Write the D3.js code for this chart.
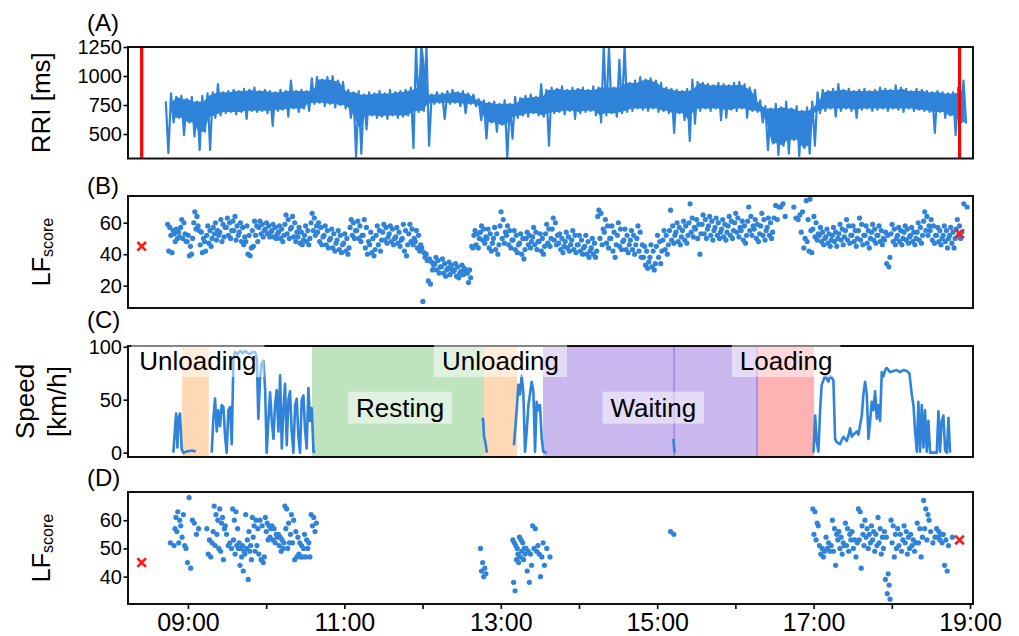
<!DOCTYPE html>
<html>
<head>
<meta charset="utf-8">
<script src="https://cdn.jsdelivr.net/npm/d3@7"></script>
<style>
  body { margin: 0; background: #fff; }
  svg text { font-family: "Liberation Sans", Arial, Helvetica, sans-serif; fill: #000; }
</style>
</head>
<body>
<svg id="chart" width="1019" height="636"></svg>
<script>
// all times are minutes after midnight

// (A) RRI trace: envelope of the beat-to-beat trace, one top/bottom pair every 4 min from 08:43
var rriStart = 523, rriStep = 4;
var rriTop = [780,850,820,830,800,820,780,830,850,860,
  930,860,870,880,870,890,880,900,870,880,
  870,860,880,870,960,870,880,870,980,990,
  970,990,1000,960,950,880,860,870,840,860,
  850,870,850,880,860,870,880,900,1260,1260,
  1260,840,860,850,870,880,860,870,850,840,
  800,790,770,780,760,790,760,820,810,830,
  840,820,930,880,900,890,910,880,900,890,
  900,880,910,900,1260,1260,900,1140,1260,940,
  960,990,970,980,960,940,900,890,880,870,
  890,970,950,940,930,920,940,930,920,940,
  950,930,900,880,790,740,720,760,730,780,
  720,740,700,730,780,860,880,870,890,930,
  880,890,870,880,890,870,880,900,890,880,
  920,900,890,870,890,880,870,860,870,860,
  850,860,900,960];
var rriBot = [336,600,640,490,600,480,362,520,362,640,
  660,680,690,670,690,630,700,690,700,680,
  570,700,710,650,720,690,720,700,760,770,
  740,760,730,750,720,640,305,330,540,660,
  640,650,630,660,640,650,660,380,690,700,
  400,760,770,630,760,770,740,680,760,740,
  620,460,600,520,580,300,460,640,660,650,
  680,660,650,400,680,690,670,700,630,680,
  690,700,660,600,660,680,650,680,690,700,
  720,710,700,720,690,700,680,510,680,620,
  440,590,700,720,700,720,620,640,710,700,
  720,640,700,690,600,360,420,320,400,330,
  450,310,380,330,400,680,700,720,650,700,
  720,700,640,710,720,700,710,720,700,720,
  710,690,720,700,710,700,690,510,690,640,
  660,490,600,590];

// recording start / end marks and the resting LF score
var markTimes = [504.5, 1132];
var markLF = [45, 53];

// (B) LF score, all windows: [bin start, values inside the 5-min bin]
var lfAll = [
[524,[59,42,57,52,41,55]],[529,[53,48,56,50,54,51]],[534,[57,62,50,60,53,48]],
[539,[48,52,39,45,40,50]],[544,[60,67,56,64,58,55]],[549,[46,54,41,50,48,42]],
[554,[52,58,47,55,45,50]],[559,[57,53,60,49,55,52]],[564,[54,62,48,59,51,57]],
[569,[57,63,52,60,50,55]],[574,[61,55,64,49,58,52]],[579,[54,60,48,57,46,51]],
[584,[48,58,40,52,39,44]],[589,[55,45,61,52,58,48]],[594,[57,61,53,59,51,55]],
[599,[56,60,53,58,51,54]],[604,[55,59,51,57,50,53]],[609,[54,58,50,56,48,52]],
[614,[59,65,53,62,50,56]],[619,[57,64,51,60,48,54]],[624,[51,57,47,54,46,49]],
[629,[52,58,48,55,46,50]],[634,[60,66,55,63,52,58]],[639,[54,60,48,57,46,51]],
[644,[52,58,46,55,44,49]],[649,[50,56,44,53,42,47]],[654,[49,55,43,52,41,46]],
[659,[47,53,42,50,40,44]],[664,[57,62,52,60,50,55]],[669,[55,61,50,58,48,52]],
[674,[52,62,44,57,40,48]],[679,[46,54,41,50,39,43]],[684,[52,58,46,55,42,49]],
[689,[54,59,49,57,47,51]],[694,[53,58,48,56,46,50]],[699,[51,57,47,54,45,49]],
[704,[50,59,42,55,39,46]],[709,[53,59,48,56,46,50]],[714,[48,55,44,52,42,46]],
[719,[44,10,41,38,40,36]],[724,[23,37,21,35,30,33]],[729,[34,38,30,36,28,32]],
[734,[32,37,28,34,26,30]],[739,[31,35,27,33,30,29]],[744,[30,34,26,32,25,28]],
[749,[29,33,27,31,30,28]],[754,[28,22,30,25,45,44]],[759,[52,55,46,53,44,50]],
[764,[54,58,49,56,47,51]],[769,[50,56,44,53,42,47]],[774,[50,57,43,53,40,46]],
[779,[58,67,50,62,47,54]],[784,[52,58,46,55,44,49]],[789,[49,55,43,52,41,46]],
[794,[47,53,40,50,37,43]],[799,[50,54,46,52,44,48]],[804,[51,57,46,54,43,48]],
[809,[48,53,42,50,40,45]],[814,[53,59,47,56,45,50]],[819,[56,63,49,60,46,52]],
[824,[47,53,43,50,41,45]],[829,[48,54,44,51,42,46]],[834,[49,55,43,52,41,46]],
[839,[46,52,42,49,40,44]],[844,[45,52,40,48,38,42]],[849,[44,50,40,47,38,42]],
[854,[64,68,50,66,46,56]],[859,[54,62,47,58,44,50]],[864,[50,58,42,54,38,46]],
[869,[52,60,45,56,43,48]],[874,[49,56,43,52,41,46]],[879,[49,55,43,52,40,46]],
[884,[50,58,42,54,38,46]],[889,[38,45,33,42,31,35]],[894,[38,46,32,42,30,34]],
[899,[45,52,38,48,34,42]],[904,[49,55,43,52,40,46]],[909,[55,68,49,58,47,52]],
[914,[54,60,48,57,46,51]],[919,[55,61,49,58,47,52]],[924,[60,72,54,63,51,57]],
[929,[56,62,50,59,40,53]],[934,[59,65,53,62,50,56]],[939,[58,64,52,61,49,55]],
[944,[57,63,52,60,50,54]],[949,[56,62,51,59,49,54]],[954,[58,64,52,61,50,55]],
[959,[60,66,54,63,51,57]],[964,[55,61,49,58,47,52]],[969,[61,70,55,64,52,58]],
[974,[56,62,50,59,48,53]],[979,[58,66,52,62,49,55]],[984,[57,63,52,60,50,54]],
[989,[63,71,62,70]],[994,[70,72,64]],[1004,[70,63,62]],
[1009,[65,54,67,44,50]],[1014,[74,48,62,42,75,55,41]],[1019,[56,64,51,60,49,53]],
[1024,[52,57,48,54,46,50]],[1029,[51,56,47,53,45,49]],[1034,[52,57,48,54,45,50]],
[1039,[53,59,49,56,46,51]],[1044,[55,62,49,58,47,52]],[1049,[52,58,48,55,45,50]],
[1054,[55,63,49,59,46,52]],[1059,[52,58,47,55,44,50]],[1064,[54,59,49,56,47,52]],
[1069,[52,58,48,55,46,50]],[1074,[49,54,34,52,32,38]],[1079,[53,59,48,56,46,50]],
[1084,[52,57,48,55,46,50]],[1089,[54,58,49,56,47,51]],[1094,[52,57,48,54,46,50]],
[1099,[54,60,49,57,47,52]],[1104,[61,67,55,64,52,58]],[1109,[55,62,49,58,47,52]],
[1114,[52,57,48,55,46,50]],[1119,[52,58,48,55,44,50]],[1124,[52,57,47,54,44,50]],
[1129,[56,62,52,58,50,54]],[1134,[72,70]]
];

// (C) vehicle speed [km/h]; null = no GPS data
var speedTime = [528.8,530.9,531.9,532.7,533.9,535.2,536.5,539,543,546,null,
  558.2,559.5,560.8,562.1,563.3,564.6,565.9,567.2,568.5,569.7,571,572.3,573.6,574.9,576.1,578,580,582,583.8,586,587.7,589.5,591.5,592.8,594,595.3,596.5,597.9,599.2,600.4,601.7,603,604.3,605.6,606.8,608.1,609.4,610.7,612,613.2,614.5,615.8,617.1,618.3,619.6,620.9,622.2,623.5,624.7,626,627.3,628.6,629.9,631.1,632.4,633.7,635,636.3,637.5,null,
  765.9,766.4,767.2,768.2,769.3,null,
  790.1,792.2,793.5,794.8,796,797.3,798.6,799.9,801.2,802.4,803.7,805,806.3,807.5,808.8,810.1,811.4,812.7,815.2,null,
  912.4,913.4,null,
  1019.9,1021.2,1022.4,1023.7,1025,1026.2,1027.5,1028.8,1030.1,1031.4,1032.6,1033.9,1035.2,1036.5,1037.7,1040.3,1041.6,1042.9,1045.4,1046.7,1048,1049.3,1050.5,1053.1,1054.4,1055.7,1057,1058.2,1059.5,1060.8,1062.1,1063.4,1064.6,1065.9,1067.2,1068.5,1069.7,1071,1072.3,1073.6,1074.9,1076.1,1078.7,1081.2,1083.8,1086.4,1088.9,1091.5,1093.5,1095.3,1096.6,1097.9,1099.2,1100.4,1101.7,1103,1104.3,1105.5,1106.8,1108.1,1109.4,1114.5,1115.8,1117,1118.3,1119.6,1120.9,1122.2,1123.5,1124.7];
var speedKmh = [0,37,5,32,37,3,0,1,2,1,null,
  0,32,51,20,40,25,45,43,15,0,40,43,8,89,95,93,96,94,96,94,93,95,95,90,32,70,84,87,60,0,30,57,30,13,45,59,20,73,4,40,65,7,50,58,20,0,45,51,15,0,50,54,20,4,61,30,42,1,0,null,
  30,32,15,10,0,null,
  7,40,64,55,73,57,1,20,45,55,67,58,1,48,40,45,13,1,0,null,
  13,0,null,
  0,35,10,1,40,64,68,73,70,67,72,71,68,13,10,8,12,15,11,16,23,15,17,20,17,26,35,55,67,55,13,30,48,40,58,32,45,30,76,72,78,80,76,77,78,76,78,77,75,55,45,20,1,48,1,45,5,40,1,30,0,0,39,1,30,35,2,0,33,0];

// work phases shown in (C)
var phaseKind = ["unload", "rest", "unload", "wait", "wait", "load"];
var phaseFrom = [535.5, 635.2, 767.2, 812.4, 913.0, 976.6];
var phaseTo   = [556.0, 767.2, 792.5, 913.0, 976.6, 1020.4];
var phaseEdges = [913.0, 976.6];
var labelText = ["Unloading", "Resting", "Unloading", "Waiting", "Loading"];
var labelTime = [547.6, 702.7, 779.8, 897.0, 998.9];
var labelKmh  = [78, 34, 78, 34, 78];

// (D) LF score while driving, same binning as (B)
var lfDrive = [
[524,[52]],[529,[51,57,61,56,63,52,60]],[534,[58,54,62,51,50]],[539,[45,68,43,60]],
[544,[59,55,57]],[554,[57,48,53,47,52]],[559,[56,65,51,62,55,60,50]],
[564,[64,49,59,61,46,57,58]],[569,[55,51,52,50]],[574,[64,53,60,48,63,51,57,50]],
[579,[52,44,50,47,51,42,49,48]],[584,[62,50,53,39,56,49,51,46]],[589,[61,54,58,49,60,51,57]],
[594,[48,60,46,58,45,47]],[599,[61,56,59,53,58,54,57]],[604,[58,53,57,52,55,54]],
[609,[55,51,54,49,53,50,52]],[614,[65,57,64,50,59,52,55]],[619,[62,52,60,46,56,47]],
[624,[54,48,52,47,51,47,50]],[629,[55,47,53,50,52,47]],[634,[62,58,61,56,59]],
[764,[50,42,45,40,43,41]],[789,[53,38,52,35,51,46,50,48,45]],[794,[54,47,53,49,52,46,50,48]],
[799,[50,42,49,38,48,44]],[804,[58,50,57,49,51]],[809,[48,40,47,52,44]],[814,[50,47]],
[909,[56,55]],
[1019,[64,55,63,53,59,58]],[1024,[51,48,50,47,49]],[1029,[54,50,52,49,51]],
[1034,[60,49,57,44,55,53]],[1039,[56,50,54,48,52,51]],[1044,[59,51,57,49,55,53]],
[1049,[56,50,53,47,52]],[1054,[64,53,63,43,58,55,51]],[1059,[60,54,57,50,55,52]],
[1064,[58,53,56,49,55,51]],[1069,[61,52,57,48,54,50]],[1074,[56,39,54,34,41,37,32]],
[1079,[60,52,58,47,55,50]],[1084,[57,51,55,49,53]],[1089,[58,52,56,48,54,50]],
[1094,[55,51,53,49,52]],[1099,[59,52,57,47,54]],[1104,[67,57,64,53,62,60]],
[1109,[56,52,54]],[1114,[57,54,56,53,55,52]],[1119,[55,44,53,42,51]],[1124,[54]]
];

var hourTicks = [540, 600, 660, 720, 780, 840, 900, 960, 1020, 1080, 1140];

// ---------------------------------------------------------------
var blue = "#2f83d8";
var phaseColor = {unload: "#ff7f0e", rest: "#2ca02c", wait: "#9370db", load: "#ff0000"};
var phaseAlpha = {unload: 0.3, rest: 0.3, wait: 0.5, load: 0.3};

var left = 128, right = 973;
var pA = {top: 47, bottom: 158.5, ylim: [289, 1250], ticks: [500, 750, 1000, 1250], name: "(A)", nameY: 31};
var pB = {top: 196, bottom: 308, ylim: [5.8, 77], ticks: [20, 40, 60], name: "(B)", nameY: 194};
var pC = {top: 346, bottom: 457, ylim: [-4.1, 100.7], ticks: [0, 50, 100], name: "(C)", nameY: 328};
var pD = {top: 492, bottom: 604, ylim: [30.3, 70], ticks: [40, 50, 60], name: "(D)", nameY: 486};

var svg = d3.select("#chart");
var x = d3.scaleLinear().domain([494, 1142.3]).range([left, right]);

function setup(p, id) {
  p.y = d3.scaleLinear().domain(p.ylim).range([p.bottom, p.top]);
  svg.append("clipPath").attr("id", id)
    .append("rect").attr("x", left).attr("y", p.top)
    .attr("width", right - left).attr("height", p.bottom - p.top);
  p.g = svg.append("g");
  p.inner = p.g.append("g").attr("clip-path", "url(#" + id + ")");
  return p;
}

function finish(p) {
  p.g.append("rect").attr("x", left).attr("y", p.top)
    .attr("width", right - left).attr("height", p.bottom - p.top)
    .attr("fill", "none").attr("stroke", "#111").attr("stroke-width", 2);
  var ax = p.g.append("g").attr("transform", "translate(" + left + ",0)")
    .call(d3.axisLeft(p.y).tickValues(p.ticks).tickSize(4.5).tickPadding(1.5).tickFormat(d3.format("d")));
  ax.select(".domain").remove();
  ax.selectAll("line").attr("stroke", "#000").attr("stroke-width", 1.6);
  ax.selectAll("text").attr("font-size", 20).attr("fill", "#000")
    .attr("font-family", "Liberation Sans, Arial, sans-serif");
  svg.append("text").attr("x", 87).attr("y", p.nameY)
    .attr("font-size", 24).text(p.name);
}

function binPoints(bins) {
  var pts = [];
  bins.forEach(function (b) {
    var n = b[1].length;
    b[1].forEach(function (v, j) { pts.push([b[0] + (j + 0.5) * 5 / n, v]); });
  });
  return pts;
}

function drawMarks(p, withLF) {
  if (!withLF) {
    p.inner.selectAll(".mark").data(markTimes).enter().append("line")
      .attr("x1", function (d) { return x(d); }).attr("x2", function (d) { return x(d); })
      .attr("y1", p.top).attr("y2", p.bottom)
      .attr("stroke", "#ff0000").attr("stroke-width", 3.2);
  } else {
    var sym = d3.symbol().type(d3.symbolX).size(50);
    p.g.selectAll(".xm").data(markTimes).enter().append("path")
      .attr("d", sym)
      .attr("transform", function (d, i) { return "translate(" + x(d) + "," + p.y(markLF[i]) + ")"; })
      .attr("fill", "none").attr("stroke", "#ff1a1a").attr("stroke-width", 2.6);
  }
}

// ---- (A) ----
setup(pA, "clipA");
var rriPts = [];
rriTop.forEach(function (v, i) {
  rriPts.push([rriStart + i * rriStep, v]);
  rriPts.push([rriStart + i * rriStep + rriStep / 2, rriBot[i]]);
});
// dense core of the trace: lowest top and highest bottom of neighbouring bins
var rriCore = rriTop.map(function (v, i) {
  var a = Math.max(0, i - 1), b = Math.min(rriTop.length, i + 2);
  return [rriStart + i * rriStep + 1, d3.min(rriTop.slice(a, b)), d3.max(rriBot.slice(a, b))];
});
pA.inner.append("path").datum(rriCore.slice(1))
  .attr("d", d3.area().x(function (d) { return x(d[0]); })
    .y0(function (d) { return pA.y(d[2]); }).y1(function (d) { return pA.y(d[1]); }))
  .attr("fill", blue);
pA.inner.append("path").datum(rriPts)
  .attr("d", d3.line().x(function (d) { return x(d[0]); }).y(function (d) { return pA.y(d[1]); }))
  .attr("fill", "none").attr("stroke", blue).attr("stroke-width", 2.2).attr("stroke-linejoin", "round");
drawMarks(pA, false);
finish(pA);
svg.append("text").attr("transform", "translate(50," + (pA.top + pA.bottom) / 2 + ") rotate(-90)")
  .attr("text-anchor", "middle").attr("font-size", 26).text("RRI [ms]");

// ---- (B) ----
setup(pB, "clipB");
pB.inner.selectAll("circle").data(binPoints(lfAll)).enter().append("circle")
  .attr("cx", function (d) { return x(d[0]); }).attr("cy", function (d) { return pB.y(d[1]); })
  .attr("r", 2.6).attr("fill", blue);
drawMarks(pB, true);
finish(pB);

function lfLabel(p) {
  var t = svg.append("text")
    .attr("transform", "translate(50," + (p.top + p.bottom) / 2 + ") rotate(-90)")
    .attr("text-anchor", "middle");
  t.append("tspan").attr("font-size", 25).text("LF");
  t.append("tspan").attr("font-size", 16).attr("dy", 3).text("score");
}
lfLabel(pB);

// ---- (C) ----
setup(pC, "clipC");
pC.inner.selectAll(".phase").data(phaseKind).enter().append("rect")
  .attr("x", function (d, i) { return x(phaseFrom[i]); })
  .attr("width", function (d, i) { return x(phaseTo[i]) - x(phaseFrom[i]); })
  .attr("y", pC.top).attr("height", pC.bottom - pC.top)
  .attr("fill", function (d) { return phaseColor[d]; })
  .attr("fill-opacity", function (d) { return phaseAlpha[d]; });
pC.inner.selectAll(".edge").data(phaseEdges).enter().append("line")
  .attr("x1", function (d) { return x(d); }).attr("x2", function (d) { return x(d); })
  .attr("y1", pC.top).attr("y2", pC.bottom)
  .attr("stroke", "#9370db").attr("stroke-width", 1.3).attr("stroke-opacity", 0.85);

var speedPts = speedTime.map(function (t, i) { return [t, speedKmh[i]]; });
pC.inner.append("path").datum(speedPts)
  .attr("d", d3.line().defined(function (d) { return d[1] !== null; })
    .x(function (d) { return x(d[0]); }).y(function (d) { return pC.y(d[1]); }))
  .attr("fill", "none").attr("stroke", blue).attr("stroke-width", 2.6).attr("stroke-linejoin", "round");

var lab = svg.append("g");
labelText.forEach(function (s, i) {
  var g = lab.append("g");
  var t = g.append("text").attr("x", x(labelTime[i])).attr("y", pC.y(labelKmh[i]))
    .attr("text-anchor", "middle").attr("font-size", 26).text(s);
  var bb = t.node().getBBox();
  g.insert("rect", "text").attr("x", bb.x - 8).attr("y", bb.y - 1)
    .attr("width", bb.width + 16).attr("height", bb.height + 2)
    .attr("fill", "#fff").attr("fill-opacity", 0.5);
});
finish(pC);
svg.append("text").attr("transform", "translate(34," + (pC.top + pC.bottom) / 2 + ") rotate(-90)")
  .attr("text-anchor", "middle").attr("font-size", 26).text("Speed");
svg.append("text").attr("transform", "translate(65.5," + (pC.top + pC.bottom) / 2 + ") rotate(-90)")
  .attr("text-anchor", "middle").attr("font-size", 26).text("[km/h]");

// ---- (D) ----
setup(pD, "clipD");
pD.inner.selectAll("circle").data(binPoints(lfDrive)).enter().append("circle")
  .attr("cx", function (d) { return x(d[0]); }).attr("cy", function (d) { return pD.y(d[1]); })
  .attr("r", 2.6).attr("fill", blue);
drawMarks(pD, true);
finish(pD);
lfLabel(pD);

var xa = svg.append("g").attr("transform", "translate(0," + pD.bottom + ")")
  .call(d3.axisBottom(x).tickValues(hourTicks).tickSize(5).tickPadding(4)
    .tickFormat(function (m) {
      var h = m / 60;
      return h % 2 === 1 ? d3.format("02d")(h) + ":00" : "";
    }));
xa.select(".domain").remove();
xa.selectAll("line").attr("stroke", "#000").attr("stroke-width", 1.6);
xa.selectAll("text").attr("font-size", 25).attr("fill", "#000")
  .attr("font-family", "Liberation Sans, Arial, sans-serif");
</script>
</body>
</html>
